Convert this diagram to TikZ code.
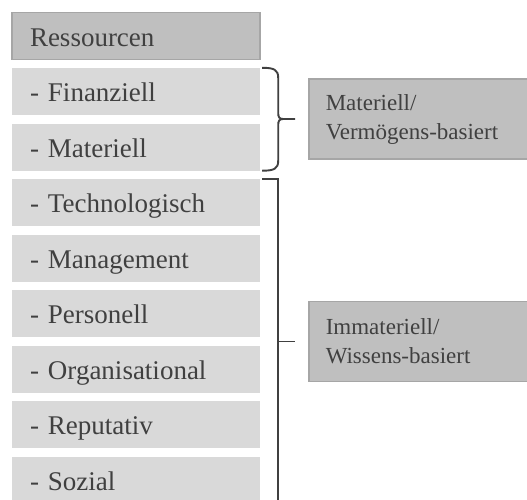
\documentclass[tikz,border=0pt]{standalone}
\usepackage{fontspec}
\setmainfont{Liberation Serif}
\usetikzlibrary{positioning, calc}
\definecolor{boxlight}{HTML}{D9D9D9}
\definecolor{boxdark}{HTML}{BFBFBF}
\definecolor{boxedge}{HTML}{A6A6A6}
\definecolor{inkgray}{HTML}{404040}

\begin{document}
\begin{tikzpicture}[x=1pt, y=-1pt,
    item/.style={fill=boxlight, text=inkgray, minimum width=248pt, minimum height=47pt,
        text width=212pt, inner xsep=18pt, inner ysep=3pt, align=left,
        text height=21pt, text depth=1pt, font=\fontsize{27}{32}\selectfont},
    head/.style={item, fill=boxdark, draw=boxedge, line width=1.5pt},
    group/.style={fill=boxdark, draw=boxedge, line width=1.5pt, text=inkgray,
        minimum width=232pt, minimum height=80pt, text width=198pt, inner xsep=17pt,
        align=left, anchor=west, font=\fontsize{23}{29}\selectfont},
    brace/.style={draw=inkgray, line width=1.9pt}]
    \clip (0,0) rectangle (527,499);

    % resource list
    \node[head] (res) at (136,36) {Ressourcen};
    \node[item] (fin) at (136,91.5) {- Finanziell};
    \node[item] (mat) at (136,147) {- Materiell};
    \node[item] (tec) at (136,202.5) {- Technologisch};
    \node[item] (man) at (136,258) {- Management};
    \node[item] (per) at (136,313.5) {- Personell};
    \node[item] (org) at (136,369) {- Organisational};
    \node[item] (rep) at (136,424.5) {- Reputativ};
    \node[item] (soz) at (136,480) {- Sozial};

    % the two groups
    \node[group] (matgrp) at (308,119) {Materiell/\\Vermögens-basiert};
    \node[group] (immgrp) at (308,341.5) {Immateriell/\\Wissens-basiert};

    % curly brace for the material group
    \coordinate (b1top) at ($(fin.north east)+(2,0)$);
    \coordinate (b1bot) at ($(mat.south east)+(2,0)$);
    \path (b1top |- matgrp.west) ++(16,0) coordinate (b1mid);
    \coordinate (b1tip) at ($(matgrp.west)+(-13,0)$);
    \draw[brace] (b1top) .. controls +(12,0) and +(0,-8) .. ($(b1top)+(16,10)$)
        -- ($(b1mid)+(0,-6)$) .. controls +(0,4) and +(-4,0) .. ($(b1mid)+(5,0)$) -- (b1tip)
        ($(b1mid)+(5,0)$) .. controls +(-4,0) and +(0,-4) .. ($(b1mid)+(0,6)$)
        -- ($(b1bot)+(16,-10)$) .. controls +(0,8) and +(12,0) .. (b1bot);

    % square bracket for the knowledge group
    \coordinate (b2top) at ($(tec.north east)+(2,0)$);
    \path (b2top) ++(16,0) coordinate (b2v);
    \coordinate (b2end) at ($(b2v |- soz.south)+(0,12)$);
    \coordinate (b2tip) at ($(immgrp.west)+(-13,0)$);
    \draw[brace] (b2top) -- (b2v) -- (b2end);
    \draw[brace] (b2v |- b2tip) -- (b2tip);
\end{tikzpicture}
\end{document}
